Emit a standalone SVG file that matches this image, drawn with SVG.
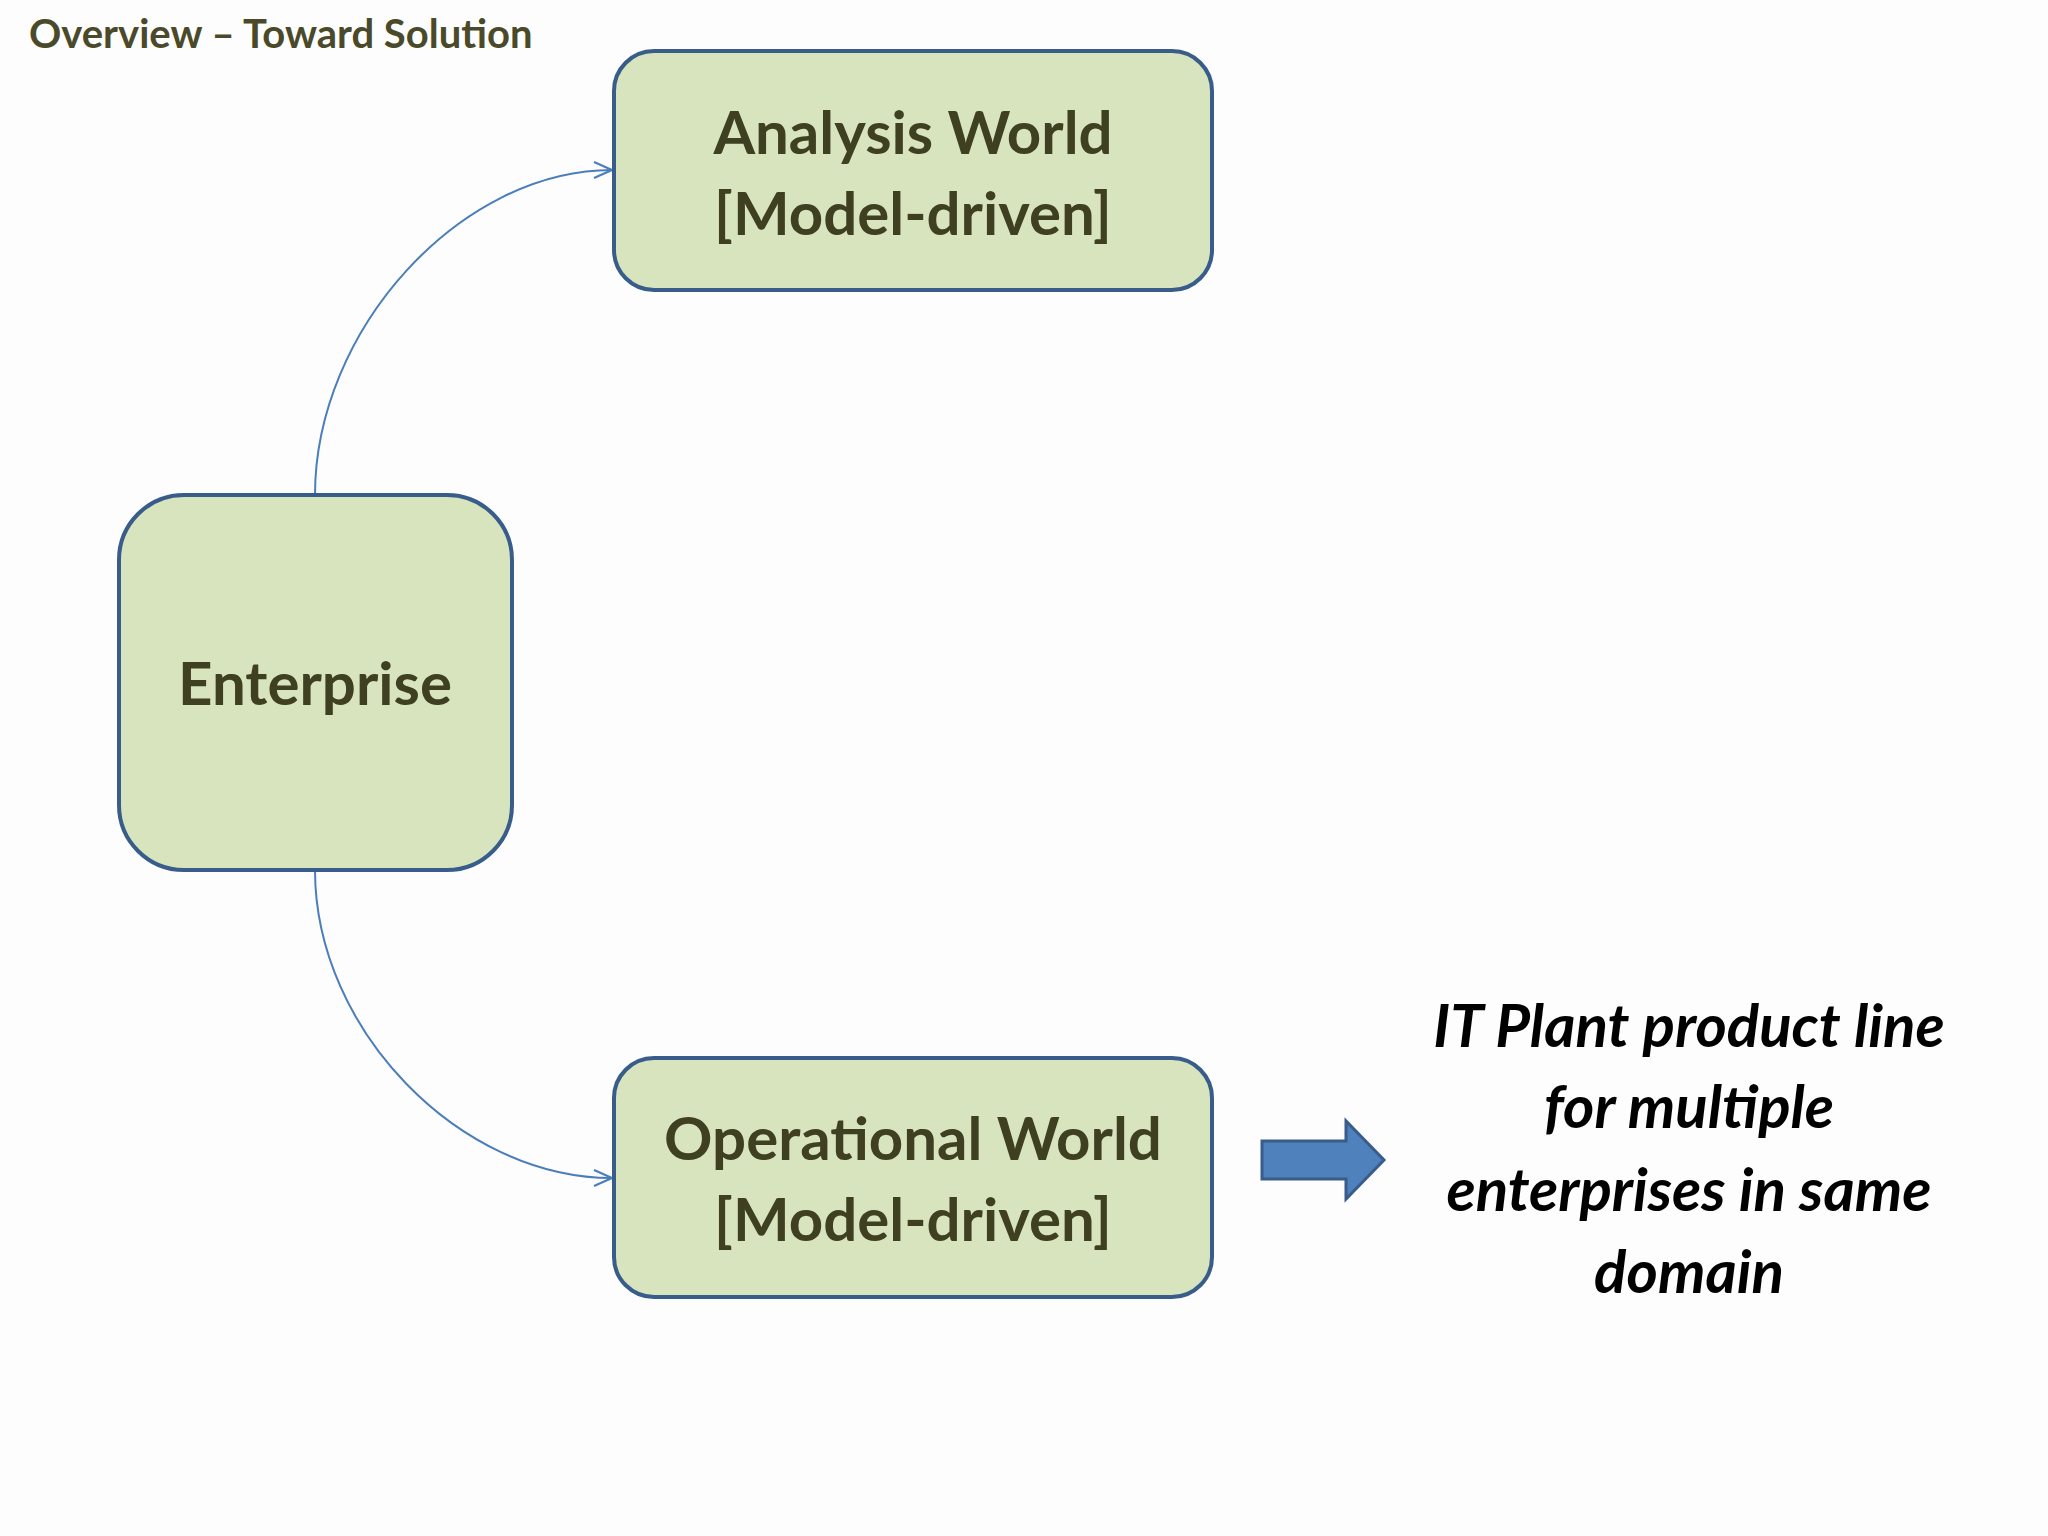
<svg xmlns="http://www.w3.org/2000/svg" width="2048" height="1536" viewBox="0 0 2048 1536">
<defs>
<style>
.box{fill:#d7e4bd;stroke:#385d8a;stroke-width:4}
.t{font-family:Lato,"Open Sans",sans-serif;font-weight:bold;fill:#3f3f22;text-anchor:middle;font-size:60px}
.r{font-family:Lato,"Open Sans",sans-serif;font-weight:bold;font-style:italic;fill:#000;text-anchor:middle;font-size:60px}
.c{fill:none;stroke:#4a7ebb;stroke-width:2}
</style>
<marker id="a" viewBox="0 0 20 20" refX="19" refY="10" markerWidth="20" markerHeight="20" markerUnits="userSpaceOnUse" orient="auto"><path d="M1,2 L19,10 L1,18" fill="none" stroke="#4a7ebb" stroke-width="2"/></marker>
</defs>
<rect width="2048" height="1536" fill="#fdfdfd"/>
<text x="29" y="48" font-family="Lato,'Open Sans',sans-serif" font-weight="bold" font-size="40" fill="#4a4a2a">Overview – Toward Solution</text>
<g id="connectors">
<path class="c" d="M315,495 C315,330 460,170 612,170" marker-end="url(#a)"/>
<path class="c" d="M315,870 C315,1030 460,1178 612,1178" marker-end="url(#a)"/>
<path d="M1262,1141 H1346 V1121 L1384,1160 L1346,1199 V1179 H1262 Z" fill="#4f81bd" stroke="#385d8a" stroke-width="3"/>
</g>
<g id="analysis"><rect class="box" x="614" y="51" width="598" height="239" rx="40"/>
<text class="t" x="913" y="154">Analysis World</text><text class="t" x="913" y="235">[Model-driven]</text></g>
<g id="enterprise"><rect class="box" x="119" y="495" width="393" height="375" rx="65"/>
<text class="t" x="315" y="705">Enterprise</text></g>
<g id="operational"><rect class="box" x="614" y="1058" width="598" height="239" rx="40"/>
<text class="t" x="913" y="1160">Operational World</text><text class="t" x="913" y="1241">[Model-driven]</text></g>
<g id="note">
<text class="r" x="1689" y="1047">IT Plant product line</text>
<text class="r" x="1689" y="1128">for multiple</text>
<text class="r" x="1689" y="1211">enterprises in same</text>
<text class="r" x="1689" y="1293">domain</text>
</g>
</svg>
